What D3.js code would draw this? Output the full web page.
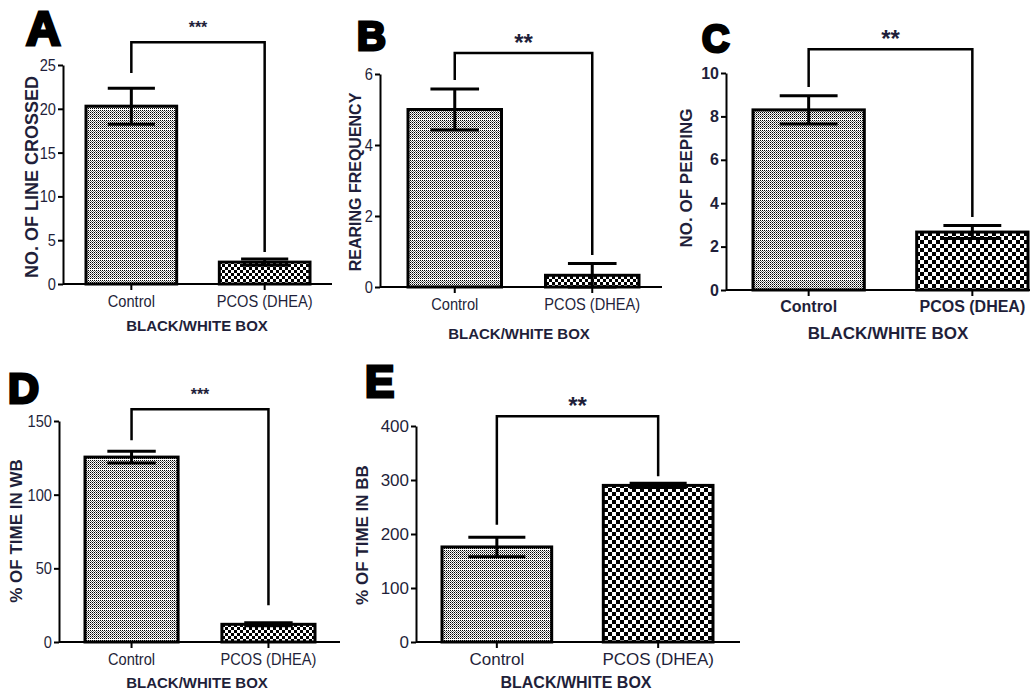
<!DOCTYPE html>
<html>
<head>
<meta charset="utf-8">
<script src="https://cdn.jsdelivr.net/npm/d3@7"></script>
<style>
  body { margin: 0; background: #fff; }
  svg { display: block; }
  .tick text { font-family: "Liberation Sans", Arial, sans-serif; fill: #1f1f3a; }
</style>
</head>
<body>
<svg id="chart" width="1030" height="692"></svg>
<script>
// groups on the x axis (same in every panel)
const groups = ['Control', 'PCOS (DHEA)'];

// one entry per panel
const panelLetters = ['A', 'B', 'C', 'D', 'E'];
const yTitles = ['NO. OF LINE CROSSED', 'REARING FREQUENCY', 'NO. OF PEEPING', '%  OF TIME IN WB', '%  OF TIME IN BB'];
const xTitle = 'BLACK/WHITE BOX';

// means and SEM
const meansA = [20.3, 2.5];
const semA = [2.05, 0.35];
const meansB = [5.0, 0.33];
const semB = [0.58, 0.33];
const meansC = [8.3, 2.67];
const semC = [0.65, 0.3];
const meansD = [125.5, 12];
const semD = [4, 1];
const meansE = [176, 290];
const semE = [18, 4];

// y tick values
const ticksA = [0, 5, 10, 15, 20, 25];
const ticksB = [0, 2, 4, 6];
const ticksC = [0, 2, 4, 6, 8, 10];
const ticksD = [0, 50, 100, 150];
const ticksE = [0, 100, 200, 300, 400];

// significance marks: label, bracket level, left/right drop ends (data units)
const sigLabels = ['***', '**', '**', '***', '**'];
const sigTop = [27.6, 6.59, 11.1, 158, 418];
const sigLeftEnd = [24.1, 5.83, 9.35, 137, 217];
const sigRightEnd = [3.65, 0.9, 3.36, 25, 307];

const svg = d3.select('#chart');
const defs = svg.append('defs');
const ink = '#1f1f3a';

// fine grey dither with white stripes (control bars)
const ctrl = defs.append('pattern')
  .attr('id', 'ctrlPat')
  .attr('patternUnits', 'userSpaceOnUse')
  .attr('width', 2)
  .attr('height', 10);
ctrl.append('rect').attr('width', 2).attr('height', 10).attr('fill', '#fff');
for (let r = 0; r < 9; r++) {
  ctrl.append('rect').attr('x', r % 2).attr('y', r).attr('width', 1).attr('height', 1)
    .attr('fill', r % 2 ? '#6e6e6e' : '#000');
}

// coarse checkerboard (PCOS bars)
function checker(id, c) {
  const p = defs.append('pattern')
    .attr('id', id)
    .attr('patternUnits', 'userSpaceOnUse')
    .attr('width', 2 * c)
    .attr('height', 2 * c);
  p.append('rect').attr('width', 2 * c).attr('height', 2 * c).attr('fill', '#fff');
  p.append('rect').attr('width', c).attr('height', c).attr('fill', '#000');
  p.append('rect').attr('x', c).attr('y', c).attr('width', c).attr('height', c).attr('fill', '#000');
}
checker('chk3', 3);
checker('chk4', 4);

// squeeze a text to look like a narrow face
function narrow(sel, k) {
  if (k === 1) return;
  sel.each(function () {
    const w = this.getComputedTextLength();
    d3.select(this).attr('textLength', w * k).attr('lengthAdjust', 'spacingAndGlyphs');
  });
}

const panels = [
  { means: meansA, sem: semA, ticks: ticksA, ax: 63, top: 65, zero: 284, xEnd: 332, band: [86, 310], chk: 'chk3',
    letter: { x: 26, y: 45, size: 48 }, title: { x: 32, y: 177, size: 18 }, xt: { y: 325, x: 197, size: 15 },
    tickFont: 17, squeeze: 0.86, starSize: 16, starGap: 9 },
  { means: meansB, sem: semB, ticks: ticksB, ax: 380, top: 74, zero: 287, xEnd: 662, band: [408, 639], chk: 'chk3',
    letter: { x: 357, y: 50, size: 40 }, title: { x: 355, y: 182, size: 16 }, xt: { y: 333, x: 519, size: 15 },
    tickFont: 17, squeeze: 0.86, starSize: 24, starGap: 2 },
  { means: meansC, sem: semC, ticks: ticksC, ax: 726, top: 73, zero: 290, xEnd: 1030, band: [753, 1028], chk: 'chk4',
    letter: { x: 702, y: 52, size: 38 }, title: { x: 686, y: 178, size: 17 }, xt: { y: 333, x: 888, size: 17 },
    tickFont: 16, squeeze: 1, starSize: 24, starGap: 2, bold: true },
  { means: meansD, sem: semD, ticks: ticksD, ax: 59, top: 421, zero: 642, xEnd: 340, band: [85, 315], chk: 'chk3',
    letter: { x: 8, y: 403, size: 43 }, title: { x: 16, y: 531, size: 17 }, xt: { y: 682, x: 197, size: 15 },
    tickFont: 17, squeeze: 0.86, starSize: 16, starGap: 9 },
  { means: meansE, sem: semE, ticks: ticksE, ax: 416, top: 426, zero: 642, xEnd: 740, band: [442, 713], chk: 'chk4',
    letter: { x: 365, y: 397, size: 44 }, title: { x: 362, y: 535, size: 17 }, xt: { y: 682, x: 576, size: 16 },
    tickFont: 17, squeeze: 1, starSize: 24, starGap: 2 }
];

panels.forEach((p, i) => {
  const g = svg.append('g');

  const x = d3.scaleBand()
    .domain(groups)
    .range(p.band)
    .paddingInner(0.32)
    .paddingOuter(0);

  const y = d3.scaleLinear()
    .domain([0, d3.max(p.ticks)])
    .range([p.zero, p.top]);

  const rows = groups.map((name, k) => ({ name, mean: p.means[k], sem: p.sem[k] }));

  // bars
  g.selectAll('.bar')
    .data(rows)
    .enter()
    .append('rect')
    .attr('x', d => x(d.name))
    .attr('y', d => y(d.mean))
    .attr('width', x.bandwidth())
    .attr('height', d => y(0) - y(d.mean))
    .attr('fill', (d, k) => k === 0 ? 'url(#ctrlPat)' : `url(#${p.chk})`)
    .attr('stroke', '#000')
    .attr('stroke-width', 3);

  // error bars
  const cap = x.bandwidth() * 0.26;
  rows.forEach(d => {
    const cx = x(d.name) + x.bandwidth() / 2;
    const eg = g.append('g').attr('stroke', '#000').attr('stroke-width', 3);
    eg.append('line').attr('x1', cx).attr('x2', cx).attr('y1', y(d.mean + d.sem)).attr('y2', y(d.mean - d.sem));
    eg.append('line').attr('x1', cx - cap).attr('x2', cx + cap).attr('y1', y(d.mean + d.sem)).attr('y2', y(d.mean + d.sem));
    eg.append('line').attr('x1', cx - cap).attr('x2', cx + cap).attr('y1', y(d.mean - d.sem)).attr('y2', y(d.mean - d.sem));
  });

  // y axis
  const yAxis = g.append('g')
    .attr('transform', `translate(${p.ax},0)`)
    .call(d3.axisLeft(y).tickValues(p.ticks).tickFormat(d3.format('d')).tickSize(5).tickPadding(2).tickSizeOuter(0));
  yAxis.select('.domain').attr('stroke', '#000').attr('stroke-width', 2);
  yAxis.selectAll('.tick line').attr('stroke', '#000').attr('stroke-width', 2);
  yAxis.selectAll('.tick text').attr('font-size', p.tickFont).attr('font-weight', p.bold ? 'bold' : 'normal')
    .call(narrow, p.squeeze);

  // x axis
  const xAxis = g.append('g')
    .attr('transform', `translate(0,${p.zero})`)
    .call(d3.axisBottom(x).tickSize(6).tickPadding(5).tickSizeOuter(0));
  xAxis.select('.domain').attr('d', `M${p.ax},0H${p.xEnd}`).attr('stroke', '#000').attr('stroke-width', 2);
  xAxis.selectAll('.tick line').attr('stroke', '#000').attr('stroke-width', 2);
  xAxis.selectAll('.tick text').attr('font-size', p.tickFont).attr('font-weight', p.bold ? 'bold' : 'normal')
    .call(narrow, p.squeeze);

  // significance bracket
  const xl = x(groups[0]) + x.bandwidth() / 2;
  const xr = x(groups[1]) + x.bandwidth() / 2;
  g.append('path')
    .attr('d', `M${xl},${y(sigLeftEnd[i])}V${y(sigTop[i])}H${xr}V${y(sigRightEnd[i])}`)
    .attr('fill', 'none')
    .attr('stroke', '#000')
    .attr('stroke-width', 2.5);
  g.append('text')
    .attr('x', (xl + xr) / 2)
    .attr('y', y(sigTop[i]) - p.starGap)
    .attr('text-anchor', 'middle')
    .attr('font-family', 'Liberation Sans, sans-serif')
    .attr('font-weight', 'bold')
    .attr('font-size', p.starSize)
    .attr('fill', ink)
    .text(sigLabels[i]);

  // y title
  g.append('text')
    .attr('transform', `translate(${p.title.x},${p.title.y}) rotate(-90)`)
    .attr('text-anchor', 'middle')
    .attr('dominant-baseline', 'central')
    .attr('font-family', 'Liberation Sans, sans-serif')
    .attr('font-weight', 'bold')
    .attr('font-size', p.title.size)
    .attr('fill', ink)
    .text(yTitles[i]);

  // x title
  g.append('text')
    .attr('x', p.xt.x)
    .attr('y', p.xt.y)
    .attr('text-anchor', 'middle')
    .attr('dominant-baseline', 'central')
    .attr('font-family', 'Liberation Sans, sans-serif')
    .attr('font-weight', 'bold')
    .attr('font-size', p.xt.size)
    .attr('fill', ink)
    .text(xTitle);

  // panel letter
  g.append('text')
    .attr('x', p.letter.x)
    .attr('y', p.letter.y)
    .attr('font-family', 'Liberation Sans, sans-serif')
    .attr('font-weight', 'bold')
    .attr('font-size', p.letter.size)
    .attr('fill', '#000')
    .attr('stroke', '#000')
    .attr('stroke-width', 3)
    .text(panelLetters[i]);
});
</script>
</body>
</html>
